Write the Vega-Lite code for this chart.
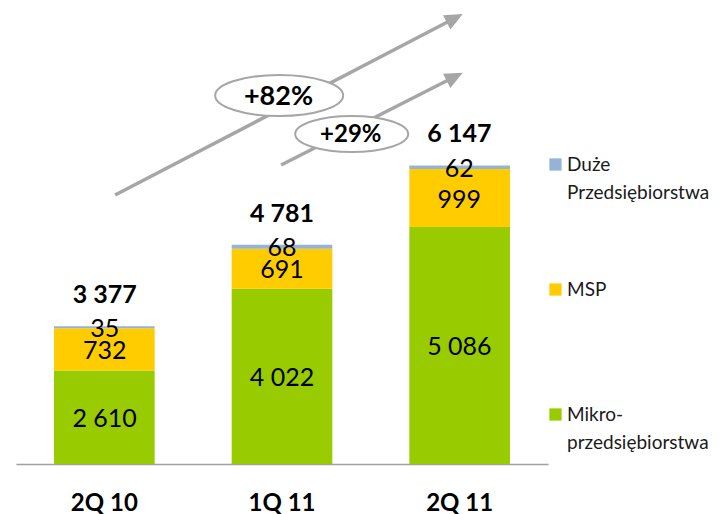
{
  "$schema": "https://vega.github.io/schema/vega-lite/v6.json",
  "width": 532,
  "height": 464,
  "autosize": {"type": "none"},
  "padding": {"left": 16, "top": 0, "right": 175, "bottom": 50},
  "background": "white",
  "config": {
    "view": {"stroke": null},
    "locale": {"number": {"decimal": ",", "thousands": " ", "grouping": [3], "currency": ["", ""]}},
    "font": "Lato"
  },
  "datasets": {
    "main": [
      {"q": "2Q 10", "seg": "Mikro-przedsiębiorstwa", "value": 2610},
      {"q": "2Q 10", "seg": "MSP", "value": 732},
      {"q": "2Q 10", "seg": "Duże Przedsiębiorstwa", "value": 35},
      {"q": "1Q 11", "seg": "Mikro-przedsiębiorstwa", "value": 4022},
      {"q": "1Q 11", "seg": "MSP", "value": 691},
      {"q": "1Q 11", "seg": "Duże Przedsiębiorstwa", "value": 68},
      {"q": "2Q 11", "seg": "Mikro-przedsiębiorstwa", "value": 5086},
      {"q": "2Q 11", "seg": "MSP", "value": 999},
      {"q": "2Q 11", "seg": "Duże Przedsiębiorstwa", "value": 62}
    ]
  },
  "resolve": {"scale": {"x": "independent"}, "axis": {"x": "independent"}},
  "layer": [
    {
      "data": {"name": "main"},
      "mark": {"type": "bar"},
      "encoding": {
        "x": {
          "field": "q", "type": "nominal", "sort": ["2Q 10", "1Q 11", "2Q 11"],
          "scale": {"paddingInner": 0.4335, "paddingOuter": 0.214},
          "axis": {
            "title": null, "labelAngle": 0, "labelFont": "Lato", "labelFontSize": 24,
            "labelFontWeight": "bold", "labelColor": "#000000", "ticks": false, "tickSize": 0,
            "labelPadding": 27, "domainColor": "#a0a0a0", "domainWidth": 1.5
          }
        },
        "y": {
          "field": "value", "type": "quantitative", "stack": "zero",
          "scale": {"domain": [1000, 9000], "clamp": true, "nice": false, "zero": false},
          "axis": null
        },
        "color": {
          "field": "seg", "type": "nominal",
          "scale": {
            "domain": ["Duże Przedsiębiorstwa", "MSP", "Mikro-przedsiębiorstwa"],
            "range": ["#95B3D7", "#FFCC00", "#99CC00"]
          },
          "legend": {
            "title": null, "orient": "none", "legendX": 530, "legendY": 155,
            "direction": "vertical", "padding": 0,
            "symbolType": "square", "symbolSize": 150,
            "symbolStrokeWidth": 0, "symbolOpacity": 1,
            "labelFont": "Lato", "labelFontSize": 19, "labelColor": "#1a1a1a",
            "labelOffset": 2, "rowPadding": 77, "labelLimit": 300,
            "labelExpr": "datum.label == 'MSP' ? ['MSP', ''] : datum.label == 'Duże Przedsiębiorstwa' ? ['Duże', 'Przedsiębiorstwa'] : ['Mikro-', 'przedsiębiorstwa']",
            "encode": {"labels": {"update": {"lineHeight": {"value": 28}}}}
          }
        },
        "order": {"field": "seg", "sort": "descending"}
      }
    },
    {
      "data": {"name": "main"},
      "transform": [
        {"stack": "value", "groupby": ["q"], "sort": [{"field": "seg", "order": "descending"}], "as": ["v0", "v1"]},
        {"calculate": "(max(datum.v0, 1000) + datum.v1) / 2", "as": "mid"}
      ],
      "mark": {"type": "text", "font": "Lato", "fontSize": 25, "color": "#000000", "baseline": "middle", "dy": 1.5},
      "encoding": {
        "x": {"field": "q", "type": "nominal", "sort": ["2Q 10", "1Q 11", "2Q 11"], "scale": {"paddingInner": 0.4335, "paddingOuter": 0.214}, "axis": null},
        "y": {"field": "mid", "type": "quantitative", "scale": {"domain": [1000, 9000], "clamp": true, "nice": false, "zero": false}, "axis": null},
        "text": {"field": "value", "type": "quantitative", "format": ",d"}
      }
    },
    {
      "data": {"name": "main"},
      "mark": {"type": "text", "font": "Lato", "fontSize": 25, "fontWeight": "bold", "color": "#000000", "baseline": "middle", "dy": -31},
      "encoding": {
        "x": {"field": "q", "type": "nominal", "sort": ["2Q 10", "1Q 11", "2Q 11"], "scale": {"paddingInner": 0.4335, "paddingOuter": 0.214}, "axis": null},
        "y": {"aggregate": "sum", "field": "value", "type": "quantitative", "scale": {"domain": [1000, 9000], "clamp": true, "nice": false, "zero": false}, "axis": null},
        "text": {"aggregate": "sum", "field": "value", "type": "quantitative", "format": ",d"}
      }
    },
    {
      "data": {"values": [{}]},
      "mark": {"type": "rule", "color": "#a6a6a6", "strokeWidth": 3.5},
      "encoding": {
        "x": {"datum": 0.059, "type": "quantitative", "scale": {"domain": [-0.5, 2.5], "nice": false, "zero": false}, "axis": null},
        "x2": {"datum": 1.974},
        "y": {"datum": 5638, "type": "quantitative", "scale": {"domain": [1000, 9000], "clamp": true, "nice": false, "zero": false}, "axis": null},
        "y2": {"datum": 8686}
      }
    },
    {
      "data": {"values": [{}]},
      "mark": {"type": "rule", "color": "#a6a6a6", "strokeWidth": 3.5},
      "encoding": {
        "x": {"datum": 0.995, "type": "quantitative", "scale": {"domain": [-0.5, 2.5], "nice": false, "zero": false}, "axis": null},
        "x2": {"datum": 1.974},
        "y": {"datum": 6155, "type": "quantitative", "scale": {"domain": [1000, 9000], "clamp": true, "nice": false, "zero": false}, "axis": null},
        "y2": {"datum": 7676}
      }
    },
    {
      "data": {"values": [{}]},
      "mark": {"type": "point", "shape": "M 0 -1 L 0.9 1 L -0.9 1 Z", "size": 324, "angle": 62.5, "filled": true, "color": "#a6a6a6", "opacity": 1},
      "encoding": {
        "x": {"datum": 1.974, "type": "quantitative", "scale": {"domain": [-0.5, 2.5], "nice": false, "zero": false}, "axis": null},
        "y": {"datum": 8686, "type": "quantitative", "scale": {"domain": [1000, 9000], "clamp": true, "nice": false, "zero": false}, "axis": null}
      }
    },
    {
      "data": {"values": [{}]},
      "mark": {"type": "point", "shape": "M 0 -1 L 0.9 1 L -0.9 1 Z", "size": 324, "angle": 63, "filled": true, "color": "#a6a6a6", "opacity": 1},
      "encoding": {
        "x": {"datum": 1.974, "type": "quantitative", "scale": {"domain": [-0.5, 2.5], "nice": false, "zero": false}, "axis": null},
        "y": {"datum": 7676, "type": "quantitative", "scale": {"domain": [1000, 9000], "clamp": true, "nice": false, "zero": false}, "axis": null}
      }
    },
    {
      "data": {"values": [{}]},
      "mark": {"type": "point", "shape": "M -1 0 C -1 -0.1767 -0.5523 -0.32 0 -0.32 C 0.5523 -0.32 1 -0.1767 1 0 C 1 0.1767 0.5523 0.32 0 0.32 C -0.5523 0.32 -1 0.1767 -1 0 Z", "size": 16384, "filled": true, "fill": "#ffffff", "stroke": "#a6a6a6", "strokeWidth": 2, "opacity": 1},
      "encoding": {
        "x": {"datum": 0.984, "type": "quantitative", "scale": {"domain": [-0.5, 2.5], "nice": false, "zero": false}, "axis": null},
        "y": {"datum": 7353, "type": "quantitative", "scale": {"domain": [1000, 9000], "clamp": true, "nice": false, "zero": false}, "axis": null}
      }
    },
    {
      "data": {"values": [{}]},
      "mark": {"type": "point", "shape": "M -1 0 C -1 -0.1767 -0.5523 -0.32 0 -0.32 C 0.5523 -0.32 1 -0.1767 1 0 C 1 0.1767 0.5523 0.32 0 0.32 C -0.5523 0.32 -1 0.1767 -1 0 Z", "size": 12769, "filled": true, "fill": "#ffffff", "stroke": "#a6a6a6", "strokeWidth": 2, "opacity": 1},
      "encoding": {
        "x": {"datum": 1.393, "type": "quantitative", "scale": {"domain": [-0.5, 2.5], "nice": false, "zero": false}, "axis": null},
        "y": {"datum": 6690, "type": "quantitative", "scale": {"domain": [1000, 9000], "clamp": true, "nice": false, "zero": false}, "axis": null}
      }
    },
    {
      "data": {"values": [{"t": "+82%"}]},
      "mark": {"type": "text", "font": "Lato", "fontSize": 27, "fontWeight": "bold", "color": "#000000", "baseline": "middle"},
      "encoding": {
        "x": {"datum": 0.98, "type": "quantitative", "scale": {"domain": [-0.5, 2.5], "nice": false, "zero": false}, "axis": null},
        "y": {"datum": 7328, "type": "quantitative", "scale": {"domain": [1000, 9000], "clamp": true, "nice": false, "zero": false}, "axis": null},
        "text": {"field": "t", "type": "nominal"}
      }
    },
    {
      "data": {"values": [{"t": "+29%"}]},
      "mark": {"type": "text", "font": "Lato", "fontSize": 24, "fontWeight": "bold", "color": "#000000", "baseline": "middle"},
      "encoding": {
        "x": {"datum": 1.388, "type": "quantitative", "scale": {"domain": [-0.5, 2.5], "nice": false, "zero": false}, "axis": null},
        "y": {"datum": 6677, "type": "quantitative", "scale": {"domain": [1000, 9000], "clamp": true, "nice": false, "zero": false}, "axis": null},
        "text": {"field": "t", "type": "nominal"}
      }
    }
  ]
}
